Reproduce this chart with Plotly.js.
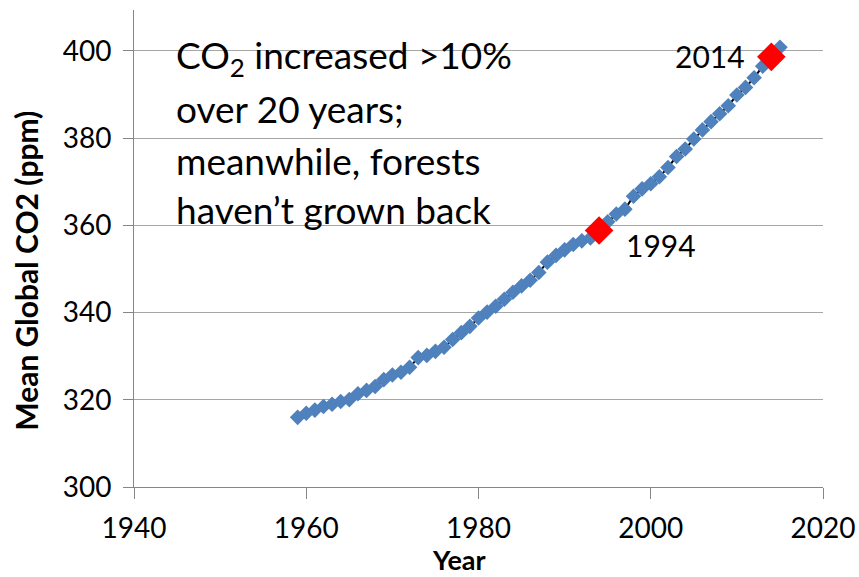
<!DOCTYPE html>
<html>
<head>
<meta charset="utf-8">
<script src="https://cdn.plot.ly/plotly-3.0.1.min.js"></script>
<style>html,body{margin:0;padding:0;background:#fff;}#chart{width:859px;height:577px;}</style>
</head>
<body>
<div id="chart"></div>
<script>
// Mean global CO2 (ppm), annual means
const years = [1959,1960,1961,1962,1963,1964,1965,1966,1967,1968,1969,1970,1971,1972,1973,1974,1975,1976,1977,1978,1979,1980,1981,1982,1983,1984,1985,1986,1987,1988,1989,1990,1991,1992,1993,1994,1995,1996,1997,1998,1999,2000,2001,2002,2003,2004,2005,2006,2007,2008,2009,2010,2011,2012,2013,2014,2015];
const co2 = [315.97,316.91,317.64,318.45,318.99,319.62,320.04,321.38,322.16,323.04,324.62,325.68,326.32,327.45,329.68,330.18,331.11,332.04,333.83,335.40,336.84,338.75,340.11,341.45,343.05,344.65,346.12,347.42,349.19,351.57,353.12,354.39,355.61,356.45,357.10,358.83,360.82,362.61,363.73,366.70,368.38,369.55,371.14,373.28,375.80,377.52,379.80,381.90,383.79,385.60,387.43,389.90,391.65,393.85,396.52,398.65,400.83];
const highlightYears = [1994, 2014];
const highlightLabels = ["1994", "2014"];
const noteLines = ["CO<sub>2</sub> increased >10%", "over 20 years;", "meanwhile, forests", "haven\u2019t grown back"];
const xTicks = [1940, 1960, 1980, 2000, 2020];
const yTicks = [300, 320, 340, 360, 380, 400];
const xTitle = "Year";
const yTitle = "Mean Global CO2 (ppm)";

const highlightVals = highlightYears.map(y => co2[years.indexOf(y)]);
const FONT = "Lato, 'Open Sans', sans-serif";

const traces = [
  {x: years, y: co2, type: 'scatter', mode: 'lines', line: {color: '#000000', width: 2}, hoverinfo: 'skip'},
  {x: years, y: co2, type: 'scatter', mode: 'markers', marker: {symbol: 'diamond', size: 12, color: '#4F81BD'}},
  {x: highlightYears, y: highlightVals, type: 'scatter', mode: 'markers', marker: {symbol: 'diamond', size: 22, color: '#FF0000'}}
];

const annotations = [];
const noteX = 1944.6;
const noteY = [398.6, 386.8, 374.9, 363.6];
noteLines.forEach((t, i) => annotations.push({
  x: noteX, y: noteY[i], xref: 'x', yref: 'y', text: t, showarrow: false,
  xanchor: 'left', yanchor: 'middle', font: {family: FONT, size: 37, color: '#000'}
}));
annotations.push({x: highlightYears[0], y: highlightVals[0], xref: 'x', yref: 'y', text: highlightLabels[0], showarrow: false,
  xanchor: 'left', yanchor: 'middle', xshift: 25, yshift: -15, font: {family: FONT, size: 30, color: '#000'}});
annotations.push({x: highlightYears[1], y: highlightVals[1], xref: 'x', yref: 'y', text: highlightLabels[1], showarrow: false,
  xanchor: 'right', yanchor: 'middle', xshift: -24, yshift: 1, font: {family: FONT, size: 30, color: '#000'}});
// axis titles
annotations.push({x: 0.4717, y: -0.153, xref: 'paper', yref: 'paper', text: '<b>' + xTitle + '</b>', showarrow: false,
  xanchor: 'center', yanchor: 'middle', font: {family: FONT, size: 27, color: '#000'}});
annotations.push({x: -0.157, y: 0.453, xref: 'paper', yref: 'paper', text: '<b>' + yTitle + '</b>', showarrow: false,
  textangle: -90, xanchor: 'center', yanchor: 'middle', font: {family: FONT, size: 30, color: '#000'}});

const layout = {
  width: 859, height: 577,
  margin: {l: 134, r: 36, t: 10, b: 90, pad: 0},
  paper_bgcolor: '#ffffff', plot_bgcolor: '#ffffff',
  showlegend: false,
  font: {family: FONT, color: '#000'},
  xaxis: {
    range: [1940, 2020], tickvals: xTicks, ticktext: xTicks.map(String),
    showgrid: false, zeroline: false, showline: true, linecolor: '#868686', linewidth: 1,
    ticks: 'outside', ticklen: 11, tickcolor: '#868686', tickwidth: 1,
    tickfont: {family: FONT, size: 28, color: '#000'}, ticklabelstandoff: 5
  },
  yaxis: {
    range: [300, 409.4], tickvals: yTicks, ticktext: yTicks.map(String),
    showgrid: true, gridcolor: '#A6A6A6', gridwidth: 1,
    zeroline: false, showline: true, linecolor: '#868686', linewidth: 1,
    ticks: 'outside', ticklen: 10, tickcolor: '#868686', tickwidth: 1,
    tickfont: {family: FONT, size: 28, color: '#000'}, ticklabelstandoff: 6
  },
  annotations: annotations
};

Plotly.newPlot('chart', traces, layout, {staticPlot: true, displayModeBar: false});
</script>
</body>
</html>
